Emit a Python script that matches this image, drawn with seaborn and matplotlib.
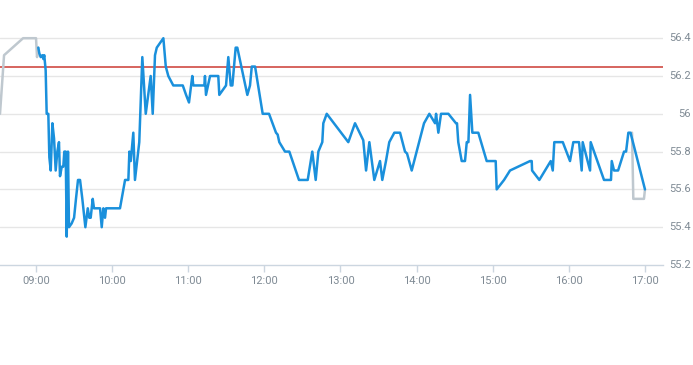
import matplotlib
matplotlib.use("Agg")
import matplotlib.pyplot as plt
import seaborn as sns
import pandas as pd
from matplotlib import font_manager

# minutes after 09:00
blue_min = [1.8, 2.6, 3.7, 5.0, 5.8, 6.5, 7.6, 8.4, 9.7, 10.5, 11.6, 12.9, 14.2, 15.5, 16.8,
            18.1, 18.9, 20.3, 21.5, 22.3, 23.4, 24.2, 25.2, 26.0, 28.1, 30.0, 31.5, 33.1, 34.7,
            36.5, 38.9, 40.8, 42.0, 43.1, 44.7, 45.7, 50.5, 51.8, 53.1, 54.4, 55.2, 66.2, 70.2,
            72.8, 73.6, 74.7, 76.7, 78.0, 81.4, 83.8, 86.5, 90.4, 92.0, 93.8, 95.2, 100.4, 102.3,
            104.3, 108.2, 115.7, 118.3, 120.6, 123.2, 124.0, 132.7, 133.2, 134.0, 137.2, 143.7,
            144.5, 149.8, 151.6, 153.5, 154.8, 157.4, 158.7, 166.6, 168.7, 170.1, 172.7, 178.7,
            183.7, 189.2, 190.5, 191.8, 194.5, 196.3, 199.7, 207.3, 214.2, 217.8, 220.5, 222.6,
            225.7, 226.5, 229.2, 246.2, 251.5, 258.0, 260.2, 262.8, 266.7, 271.2, 273.0, 275.9,
            278.5, 282.5, 287.0, 290.9, 292.5, 296.2, 305.9, 310.1, 314.6, 315.4, 317.2, 319.3,
            325.1, 331.1, 331.9, 332.9, 335.6, 338.2, 339.6, 340.9, 342.2, 344.0, 348.7, 355.3,
            362.4, 363.2, 369.0, 373.7, 389.5, 390.8, 391.1, 396.8, 405.8, 407.4, 408.6, 415.3,
            421.0, 423.6, 428.1, 430.2, 431.0, 436.8, 437.3, 447.8, 453.3, 453.9, 455.7, 458.9,
            463.6, 465.2, 467.0, 468.7, 480.1]
blue_val = [56.35, 56.32, 56.30, 56.31, 56.29, 56.31, 56.23, 56.00, 56.00, 55.77, 55.70, 55.95, 55.87,
            55.70, 55.80, 55.85, 55.67, 55.72, 55.72, 55.80, 55.80, 55.35, 55.80, 55.40, 55.42, 55.45,
            55.55, 55.65, 55.65, 55.55, 55.40, 55.50, 55.45, 55.45, 55.55, 55.50, 55.50, 55.40, 55.50,
            55.45, 55.50, 55.50, 55.65, 55.65, 55.80, 55.75, 55.90, 55.65, 55.85, 56.30, 56.00, 56.20,
            56.00, 56.31, 56.35, 56.40, 56.25, 56.20, 56.15, 56.15, 56.10, 56.06, 56.20, 56.15, 56.15,
            56.20, 56.10, 56.20, 56.20, 56.10, 56.15, 56.30, 56.15, 56.15, 56.35, 56.35, 56.10, 56.15,
            56.25, 56.25, 56.00, 56.00, 55.90, 55.89, 55.85, 55.82, 55.80, 55.80, 55.65, 55.65, 55.80,
            55.65, 55.80, 55.85, 55.95, 56.00, 55.85, 55.95, 55.86, 55.70, 55.85, 55.65, 55.75, 55.65,
            55.75, 55.85, 55.90, 55.90, 55.80, 55.79, 55.70, 55.95, 56.00, 55.95, 56.00, 55.90, 56.00,
            56.00, 55.95, 55.95, 55.85, 55.75, 55.75, 55.85, 55.85, 56.10, 55.90, 55.90, 55.75, 55.75,
            55.60, 55.65, 55.70, 55.75, 55.75, 55.70, 55.65, 55.75, 55.70, 55.85, 55.85, 55.75, 55.85,
            55.85, 55.70, 55.85, 55.70, 55.85, 55.65, 55.65, 55.75, 55.70, 55.70, 55.80, 55.80, 55.90,
            55.90, 55.60]

pre_min = [-28.4, -25.2, -10.2, 0.0, 0.8, 1.8]
pre_val = [56.00, 56.31, 56.40, 56.40, 56.30, 56.35]
post_min = [469.9, 470.9, 479.3, 480.1]
post_val = [55.90, 55.55, 55.55, 55.60]

ref_price = 56.25
x_ticks = [0, 60, 120, 180, 240, 300, 360, 420, 480]
x_labels = ["09:00", "10:00", "11:00", "12:00", "13:00", "14:00", "15:00", "16:00", "17:00"]
y_ticks = [55.2, 55.4, 55.6, 55.8, 56.0, 56.2, 56.4]
y_labels = ["55.2", "55.4", "55.6", "55.8", "56", "56.2", "56.4"]

sns.set_theme(style="white")
plt.rcParams["font.family"] = ["Roboto", "DejaVu Sans"]

W, H = 693, 365
fig = plt.figure(figsize=(W / 100, H / 100), dpi=100)
ax_top_px, ax_bot_px, ax_right_px = 30, 265, 663
ax = fig.add_axes([0, 1 - ax_bot_px / H, ax_right_px / W, (ax_bot_px - ax_top_px) / H])

blue_df = pd.DataFrame({"t": blue_min, "v": blue_val})
pre_df = pd.DataFrame({"t": pre_min, "v": pre_val})
post_df = pd.DataFrame({"t": post_min, "v": post_val})

for yt in y_ticks[1:]:
    ax.axhline(yt, color="#e6e6e6", lw=1, zorder=0)
ax.axhline(ref_price, color="#cc3a33", lw=1.1, zorder=1)

sns.lineplot(data=pre_df, x="t", y="v", ax=ax, color="#bfc8cf", lw=1.8, sort=False, estimator=None)
sns.lineplot(data=post_df, x="t", y="v", ax=ax, color="#bfc8cf", lw=1.8, sort=False, estimator=None)
sns.lineplot(data=blue_df, x="t", y="v", ax=ax, color="#1a90dc", lw=1.8, sort=False, estimator=None)

# y scale: 189 px per 1.0 unit, 55.2 at bottom
ax.set_ylim(55.2, 55.2 + (ax_bot_px - ax_top_px) / 189)
ax.set_xlim(-28.4, -28.4 + ax_right_px * 0.7884)

for s in ["top", "left", "right"]:
    ax.spines[s].set_visible(False)
ax.spines["bottom"].set_color("#ccd6e0")
ax.spines["bottom"].set_linewidth(1)

ax.set_xticks(x_ticks)
ax.set_xticklabels(x_labels)
ax.tick_params(axis="x", direction="out", length=5, width=1, color="#ccd6e0",
               labelsize=8, labelcolor="#7f8a94", pad=3, bottom=True)
ax.set_yticks([])
ax.set_xlabel("")
ax.set_ylabel("")

for yt, lab in zip(y_ticks, y_labels):
    ax.text(691 / ax_right_px, yt, lab, transform=ax.get_yaxis_transform(),
            ha="right", va="center", fontsize=8, color="#7f8a94", clip_on=False)

fig.savefig("out.png", dpi=100)
